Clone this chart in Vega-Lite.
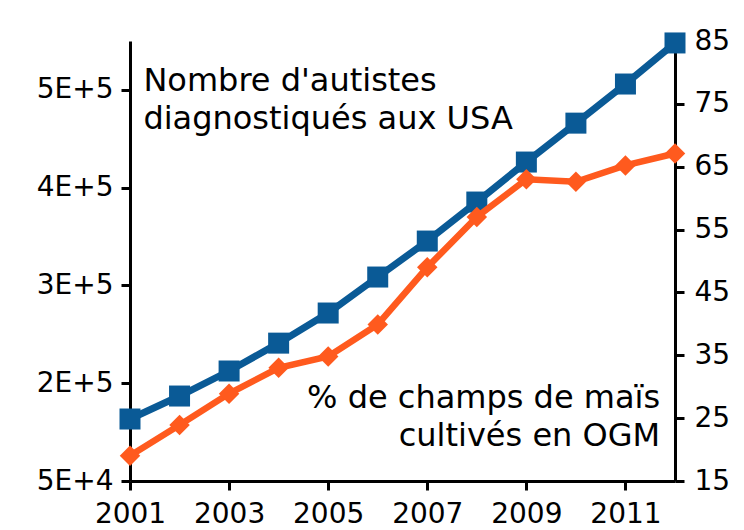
{
  "$schema": "https://vega.github.io/schema/vega-lite/v6.json",
  "width": 545,
  "height": 440,
  "autosize": {"type": "none"},
  "padding": {"left": 130, "top": 41, "right": 69, "bottom": 49},
  "background": "white",
  "config": {
    "view": {"stroke": null},
    "font": "DejaVu Sans",
    "axis": {
      "domainColor": "black",
      "domainWidth": 3,
      "tickColor": "black",
      "tickWidth": 3,
      "tickSize": 9,
      "labelFontSize": 28,
      "labelColor": "black",
      "labelFont": "DejaVu Sans",
      "grid": false,
      "title": null,
      "labelPadding": 8
    }
  },
  "data": {
    "values": [
      {"year": 2001, "autistes": 163400, "ogm": 19.0},
      {"year": 2002, "autistes": 186900, "ogm": 23.9},
      {"year": 2003, "autistes": 212500, "ogm": 28.9},
      {"year": 2004, "autistes": 241000, "ogm": 33.0},
      {"year": 2005, "autistes": 271800, "ogm": 34.8},
      {"year": 2006, "autistes": 308600, "ogm": 39.9},
      {"year": 2007, "autistes": 345400, "ogm": 49.0},
      {"year": 2008, "autistes": 385300, "ogm": 57.0},
      {"year": 2009, "autistes": 426200, "ogm": 63.0},
      {"year": 2010, "autistes": 466000, "ogm": 62.6},
      {"year": 2011, "autistes": 506000, "ogm": 65.2},
      {"year": 2012, "autistes": 548000, "ogm": 67.1}
    ]
  },
  "encoding": {
    "x": {
      "field": "year",
      "type": "quantitative",
      "scale": {"domain": [2001, 2012], "nice": false, "zero": false},
      "axis": {"values": [2001, 2003, 2005, 2007, 2009, 2011], "format": "d", "labelPadding": 10, "labelFlush": false, "labelOverlap": false}
    }
  },
  "layer": [
    {
      "encoding": {
        "y": {
          "field": "autistes",
          "type": "quantitative",
          "scale": {"domain": [100000, 550000], "nice": false, "zero": false},
          "axis": {
            "values": [100000, 200000, 300000, 400000, 500000],
            "labelExpr": "datum.value == 100000 ? '5E+4' : (datum.value / 100000) + 'E+5'",
            "labelFlush": false,
            "labelOverlap": false
          }
        }
      },
      "layer": [
        {"mark": {"type": "line", "color": "#0a5a96", "strokeWidth": 7}},
        {"mark": {"type": "point", "shape": "square", "filled": true, "color": "#0a5a96", "size": 441, "opacity": 1}},
        {
          "data": {"values": [{"label": "Nombre d'autistes\ndiagnostiqués aux USA", "year": 2001.27, "autistes": 498500}]},
          "mark": {"type": "text", "align": "left", "baseline": "alphabetic", "fontSize": 32, "lineHeight": 38, "lineBreak": "\n", "color": "black"},
          "encoding": {"text": {"field": "label", "type": "nominal"}}
        }
      ]
    },
    {
      "encoding": {
        "y": {
          "field": "ogm",
          "type": "quantitative",
          "scale": {"domain": [15, 85], "nice": false, "zero": false},
          "axis": {
            "orient": "right",
            "values": [15, 25, 35, 45, 55, 65, 75, 85],
            "labelFlush": false,
            "labelOverlap": false,
            "labelPadding": 10
          }
        }
      },
      "layer": [
        {"mark": {"type": "line", "color": "#ff5a1e", "strokeWidth": 6.5}},
        {"mark": {"type": "point", "shape": "diamond", "filled": true, "color": "#ff5a1e", "size": 420, "opacity": 1}},
        {
          "data": {"values": [{"label": "% de champs de maïs\ncultivés en OGM", "year": 2011.7, "ogm": 26.6}]},
          "mark": {"type": "text", "align": "right", "baseline": "alphabetic", "fontSize": 32, "lineHeight": 38, "lineBreak": "\n", "color": "black"},
          "encoding": {"text": {"field": "label", "type": "nominal"}}
        }
      ]
    }
  ],
  "resolve": {"scale": {"y": "independent"}}
}
